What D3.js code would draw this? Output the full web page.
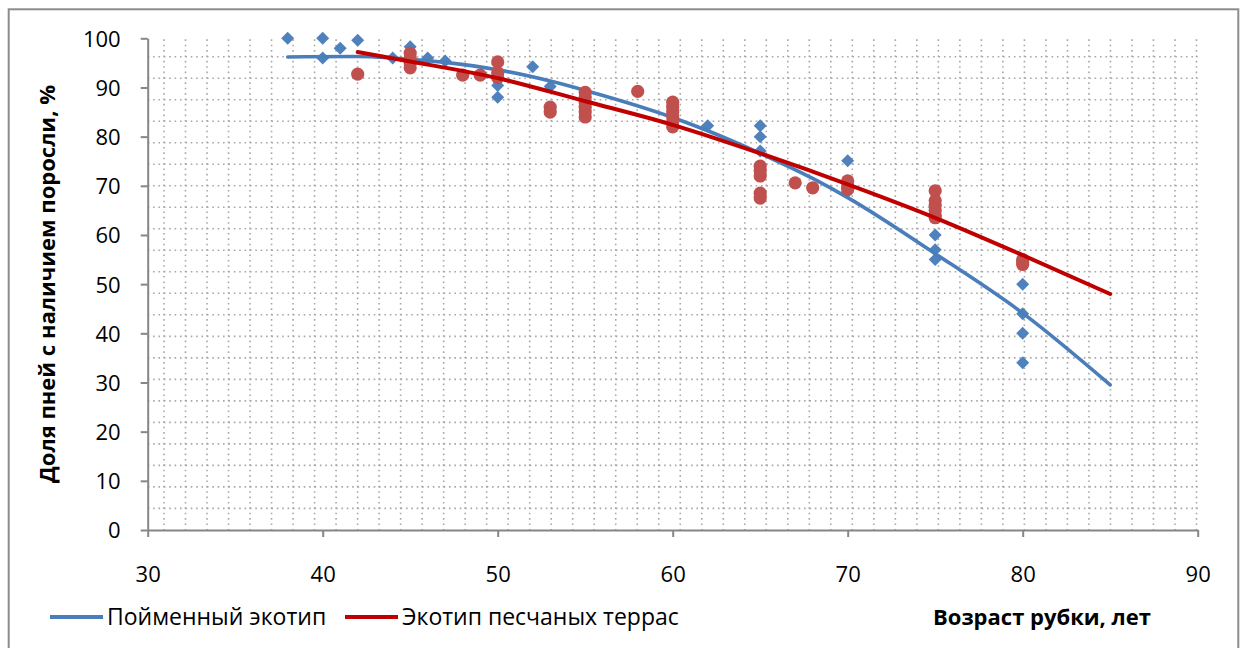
<!DOCTYPE html>
<html lang="ru">
<head>
<meta charset="utf-8">
<script src="https://cdn.jsdelivr.net/npm/d3@7/dist/d3.min.js"></script>
<style>
  html, body { margin: 0; padding: 0; background: #fff; }
  svg { display: block; font-family: "Open Sans", "Noto Sans", sans-serif; }
</style>
</head>
<body>
<svg id="chart" width="1245" height="648"></svg>
<script>
// Пойменный экотип: возраст рубки (лет) и доля пней с порослью (%)
const floodAge   = [38, 40, 40, 41, 42, 44, 45, 46, 47, 50, 50, 52, 53, 62, 65, 65, 65, 70, 70, 75, 75, 75, 80, 80, 80, 80];
const floodShare = [100, 100, 96, 98, 99.6, 96, 98.3, 96, 95.4, 90.4, 88, 94.2, 90.2, 82.2, 82.2, 80, 77.1, 75.1, 68.8, 60, 57, 55, 50, 44, 40, 34];

// Экотип песчаных террас
const sandAge   = [42, 45, 45, 45, 45, 48, 49, 50, 50, 50, 53, 53, 55, 55, 55, 55, 55, 55, 58,
                   60, 60, 60, 60, 60, 60, 65, 65, 65, 65, 65, 67, 68, 70, 70, 70,
                   75, 75, 75, 75, 75, 75, 80, 80, 80];
const sandShare = [92.7, 97, 96, 95, 94, 92.5, 92.5, 95.2, 93, 92, 86, 85, 89, 88, 87, 86, 85, 84, 89.2,
                   87, 86, 85, 84, 83, 82, 74, 73, 72, 68.5, 67.5, 70.6, 69.6, 71, 70, 69.3,
                   69, 67, 66, 65, 64, 63.5, 55, 54.5, 54];

// Линии тренда (значения, снятые вдоль кривых)
const floodTrendAge   = [38, 42, 44, 47, 50, 53, 55, 60, 62, 65, 68, 70, 75, 80, 85];
const floodTrendShare = [96.2, 96.3, 96.0, 95.1, 93.6, 91.3, 89.4, 83.9, 81.2, 76.6, 71.5, 67.6, 56.2, 44.1, 29.5];
const sandTrendAge    = [42, 45, 50, 55, 60, 65, 70, 75, 80, 85];
const sandTrendShare  = [97.2, 95.3, 91.9, 87.2, 82.4, 76.6, 70.3, 63.5, 55.9, 48.0];

const xTicks = [30, 40, 50, 60, 70, 80, 90];
const yTicks = [0, 10, 20, 30, 40, 50, 60, 70, 80, 90, 100];

const seriesNames = ["Пойменный экотип", "Экотип песчаных террас"];
const xTitle = "Возраст рубки, лет";
const yTitle = "Доля пней с наличием поросли, %";

const BLUE = "#4F81BD", BLUE_LINE = "#4A7EBB", RED_MARK = "#C0504D", RED_LINE = "#C00000";
const AXIS = "#868686";

const svg = d3.select("#chart");

// chart frame
svg.append("rect")
  .attr("x", 8.7).attr("y", 9.3)
  .attr("width", 1229.6).attr("height", 650)
  .attr("fill", "#fff").attr("stroke", "#8c8c8c").attr("stroke-width", 2);

const plot = { left: 147.7, right: 1197.7, top: 38.3, bottom: 530 };

const x = d3.scaleLinear().domain([30, 90]).range([plot.left, plot.right]);
const y = d3.scaleLinear().domain([0, 100]).range([plot.bottom, plot.top]);

// dotted grid fill of the plot area
const cell = 21.51;
const grid = svg.append("g").attr("stroke", "#a8a8a8").attr("stroke-width", 1.6)
  .attr("stroke-dasharray", "1.6,3.78");
d3.range(164, plot.right + 1, cell).forEach(gx => {
  grid.append("line").attr("x1", gx).attr("x2", gx)
    .attr("y1", plot.top + 1).attr("y2", plot.bottom);
});
d3.range(56.7, plot.bottom - 2, cell).forEach(gy => {
  grid.append("line").attr("x1", plot.left).attr("x2", plot.right)
    .attr("y1", gy).attr("y2", gy);
});

// axes
const yAxis = svg.append("g")
  .attr("transform", `translate(${plot.left},0)`)
  .call(d3.axisLeft(y).tickValues(yTicks).tickSize(7).tickSizeOuter(0).tickPadding(20));
const xAxis = svg.append("g")
  .attr("transform", `translate(0,${plot.bottom})`)
  .call(d3.axisBottom(x).tickValues(xTicks).tickSize(7).tickSizeOuter(0));

[yAxis, xAxis].forEach(a => {
  a.select(".domain").attr("stroke", AXIS).attr("stroke-width", 2);
  a.selectAll(".tick line").attr("stroke", AXIS).attr("stroke-width", 2);
  a.selectAll(".tick text").attr("fill", "#000")
    .style("font-family", "'Open Sans', sans-serif").style("font-size", "22px");
});
yAxis.selectAll(".tick text").attr("dy", "0.36em");
xAxis.selectAll(".tick text").attr("y", 52).attr("dy", 0);

const line = d3.line().x(d => x(d[0])).y(d => y(d[1])).curve(d3.curveMonotoneX);
const diamond = d3.symbol().type(d3.symbolDiamond2).size(108);

// series 1: markers + trend
svg.append("g").selectAll("path")
  .data(d3.zip(floodAge, floodShare))
  .join("path")
  .attr("transform", d => `translate(${x(d[0])},${y(d[1])})`)
  .attr("d", diamond)
  .attr("fill", BLUE);

svg.append("path")
  .datum(d3.zip(floodTrendAge, floodTrendShare))
  .attr("d", line)
  .attr("fill", "none").attr("stroke", BLUE_LINE).attr("stroke-width", 3.6)
  .attr("stroke-linecap", "round");

// series 2: markers + trend
svg.append("g").selectAll("circle")
  .data(d3.zip(sandAge, sandShare))
  .join("circle")
  .attr("cx", d => x(d[0])).attr("cy", d => y(d[1]))
  .attr("r", 6.6)
  .attr("fill", RED_MARK);

svg.append("path")
  .datum(d3.zip(sandTrendAge, sandTrendShare))
  .attr("d", line)
  .attr("fill", "none").attr("stroke", RED_LINE).attr("stroke-width", 4)
  .attr("stroke-linecap", "round");

// legend
const legend = svg.append("g").style("font-size", "23px");
const legendItems = [
  { name: seriesNames[0], color: BLUE_LINE, x0: 50 },
  { name: seriesNames[1], color: RED_LINE, x0: 345 }
];
legendItems.forEach(it => {
  legend.append("line")
    .attr("x1", it.x0).attr("x2", it.x0 + 53)
    .attr("y1", 617).attr("y2", 617)
    .attr("stroke", it.color).attr("stroke-width", 4);
  legend.append("text")
    .attr("x", it.x0 + 57).attr("y", 625)
    .attr("fill", "#000")
    .text(it.name);
});

// axis titles
svg.append("text")
  .attr("x", 933).attr("y", 625)
  .style("font-size", "22px").style("font-weight", "bold")
  .attr("fill", "#000")
  .text(xTitle);

svg.append("text")
  .attr("transform", "translate(55,284) rotate(-90)")
  .attr("text-anchor", "middle")
  .style("font-size", "22px").style("font-weight", "bold")
  .attr("fill", "#000")
  .text(yTitle);
</script>
</body>
</html>
